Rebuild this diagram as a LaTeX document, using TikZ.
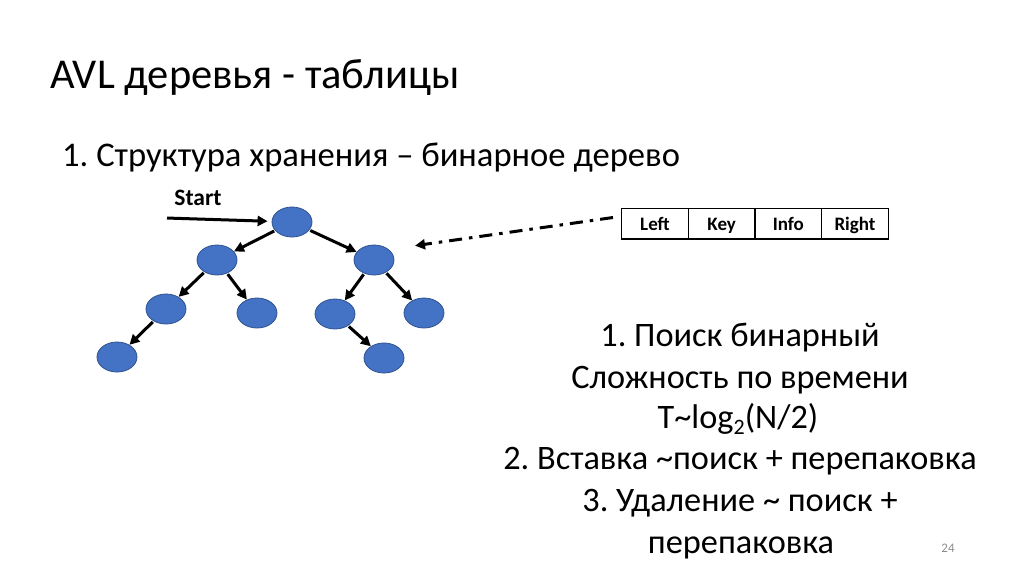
\documentclass[tikz,border=0pt]{standalone}
\usepackage{fontspec}
\setmainfont{Carlito}
\frenchspacing
\usetikzlibrary{arrows.meta,shapes.geometric}
\definecolor{nodeblue}{HTML}{4472C4}
\definecolor{nodeedge}{HTML}{2F528F}
\definecolor{pagegray}{HTML}{8C8C8C}
\tikzset{
  treenode/.style={ellipse, fill=nodeblue, draw=nodeedge, line width=0.8pt, minimum width=40pt, minimum height=30pt, inner sep=0pt},
  treeedge/.style={-{Triangle[length=10pt,width=10pt]}, line width=3pt, shorten <=1pt},
  cell/.style={draw, line width=1.3pt, minimum width=66.7pt, minimum height=30.7pt, inner sep=0pt, text height=13pt, text depth=0pt, font=\bfseries\fontsize{19}{21}\selectfont},
  bodytext/.style={anchor=base, inner sep=0pt, font=\fontsize{34.3}{42}\selectfont},
}
\begin{document}
\begin{tikzpicture}[x=1pt,y=-1pt]
\useasboundingbox[fill=white] (0,0) rectangle (1024,574);

% title and subtitle
\node[anchor=base west, inner sep=0pt, font=\fontsize{42.5}{50}\selectfont] (title) at (50,88) {AVL деревья - таблицы};
\node[anchor=base west, inner sep=0pt, font=\fontsize{34.6}{40}\selectfont] (subtitle) at (62,166) {1. Структура хранения – бинарное дерево};

% tree
\node[treenode] (root) at (292,222) {};
\node[treenode] (l) at (217,260) {};
\node[treenode] (r) at (374,260) {};
\node[treenode] (ll) at (166,309) {};
\node[treenode] (lr) at (257,313) {};
\node[treenode] (rl) at (335,314) {};
\node[treenode] (rr) at (424,313) {};
\node[treenode] (lll) at (117,357) {};
\node[treenode] (rlr) at (384,358) {};

\draw[treeedge] (root) -- (l);
\draw[treeedge] (root) -- (r);
\draw[treeedge] (l) -- (ll);
\draw[treeedge] (l) -- (lr);
\draw[treeedge] (r) -- (rl);
\draw[treeedge] (r) -- (rr);
\draw[treeedge] (ll) -- (lll);
\draw[treeedge] (rl) -- (rlr);

% start
\node[anchor=base, font=\bfseries\fontsize{23.5}{26}\selectfont, inner sep=0pt] (startlbl) at (198,205.5) {Start};
\coordinate (startpt) at (166,218);
\draw[treeedge, shorten >=4pt] (startpt) -- (root);

% record table
\node[cell] (cleft) at (655,223.6) {Left};
\node[cell] (ckey) at (721.7,223.6) {Key};
\node[cell] (cinfo) at (788.3,223.6) {Info};
\node[cell] (cright) at (855,223.6) {Right};

\coordinate (dashstart) at (613,217.5);
\coordinate (dashend) at (415,245.7);
\draw[-{Triangle[length=10pt,width=10pt]}, line width=3pt, dash pattern=on 13pt off 7pt on 3.5pt off 7pt] (dashstart) -- (dashend);

% right text
\node[bodytext] (line1) at (740,346) {1. Поиск бинарный};
\node[bodytext] (line2) at (740,388) {Сложность по времени};
\node[bodytext] (line3) at (738,428) {T\char"7E log\raisebox{-0.2em}{\fontsize{22}{24}\selectfont 2}(N/2)};
\node[bodytext] (line4) at (740,469) {2. Вставка \char"7E поиск + перепаковка};
\node[bodytext] (line5) at (740,511) {3. Удаление \char"7E{} поиск +};
\node[bodytext] (line6) at (741,553) {перепаковка};

\node[anchor=base, font=\fontsize{13}{15}\selectfont, text=pagegray, inner sep=0pt] (pagenum) at (948,552) {24};
\end{tikzpicture}
\end{document}
